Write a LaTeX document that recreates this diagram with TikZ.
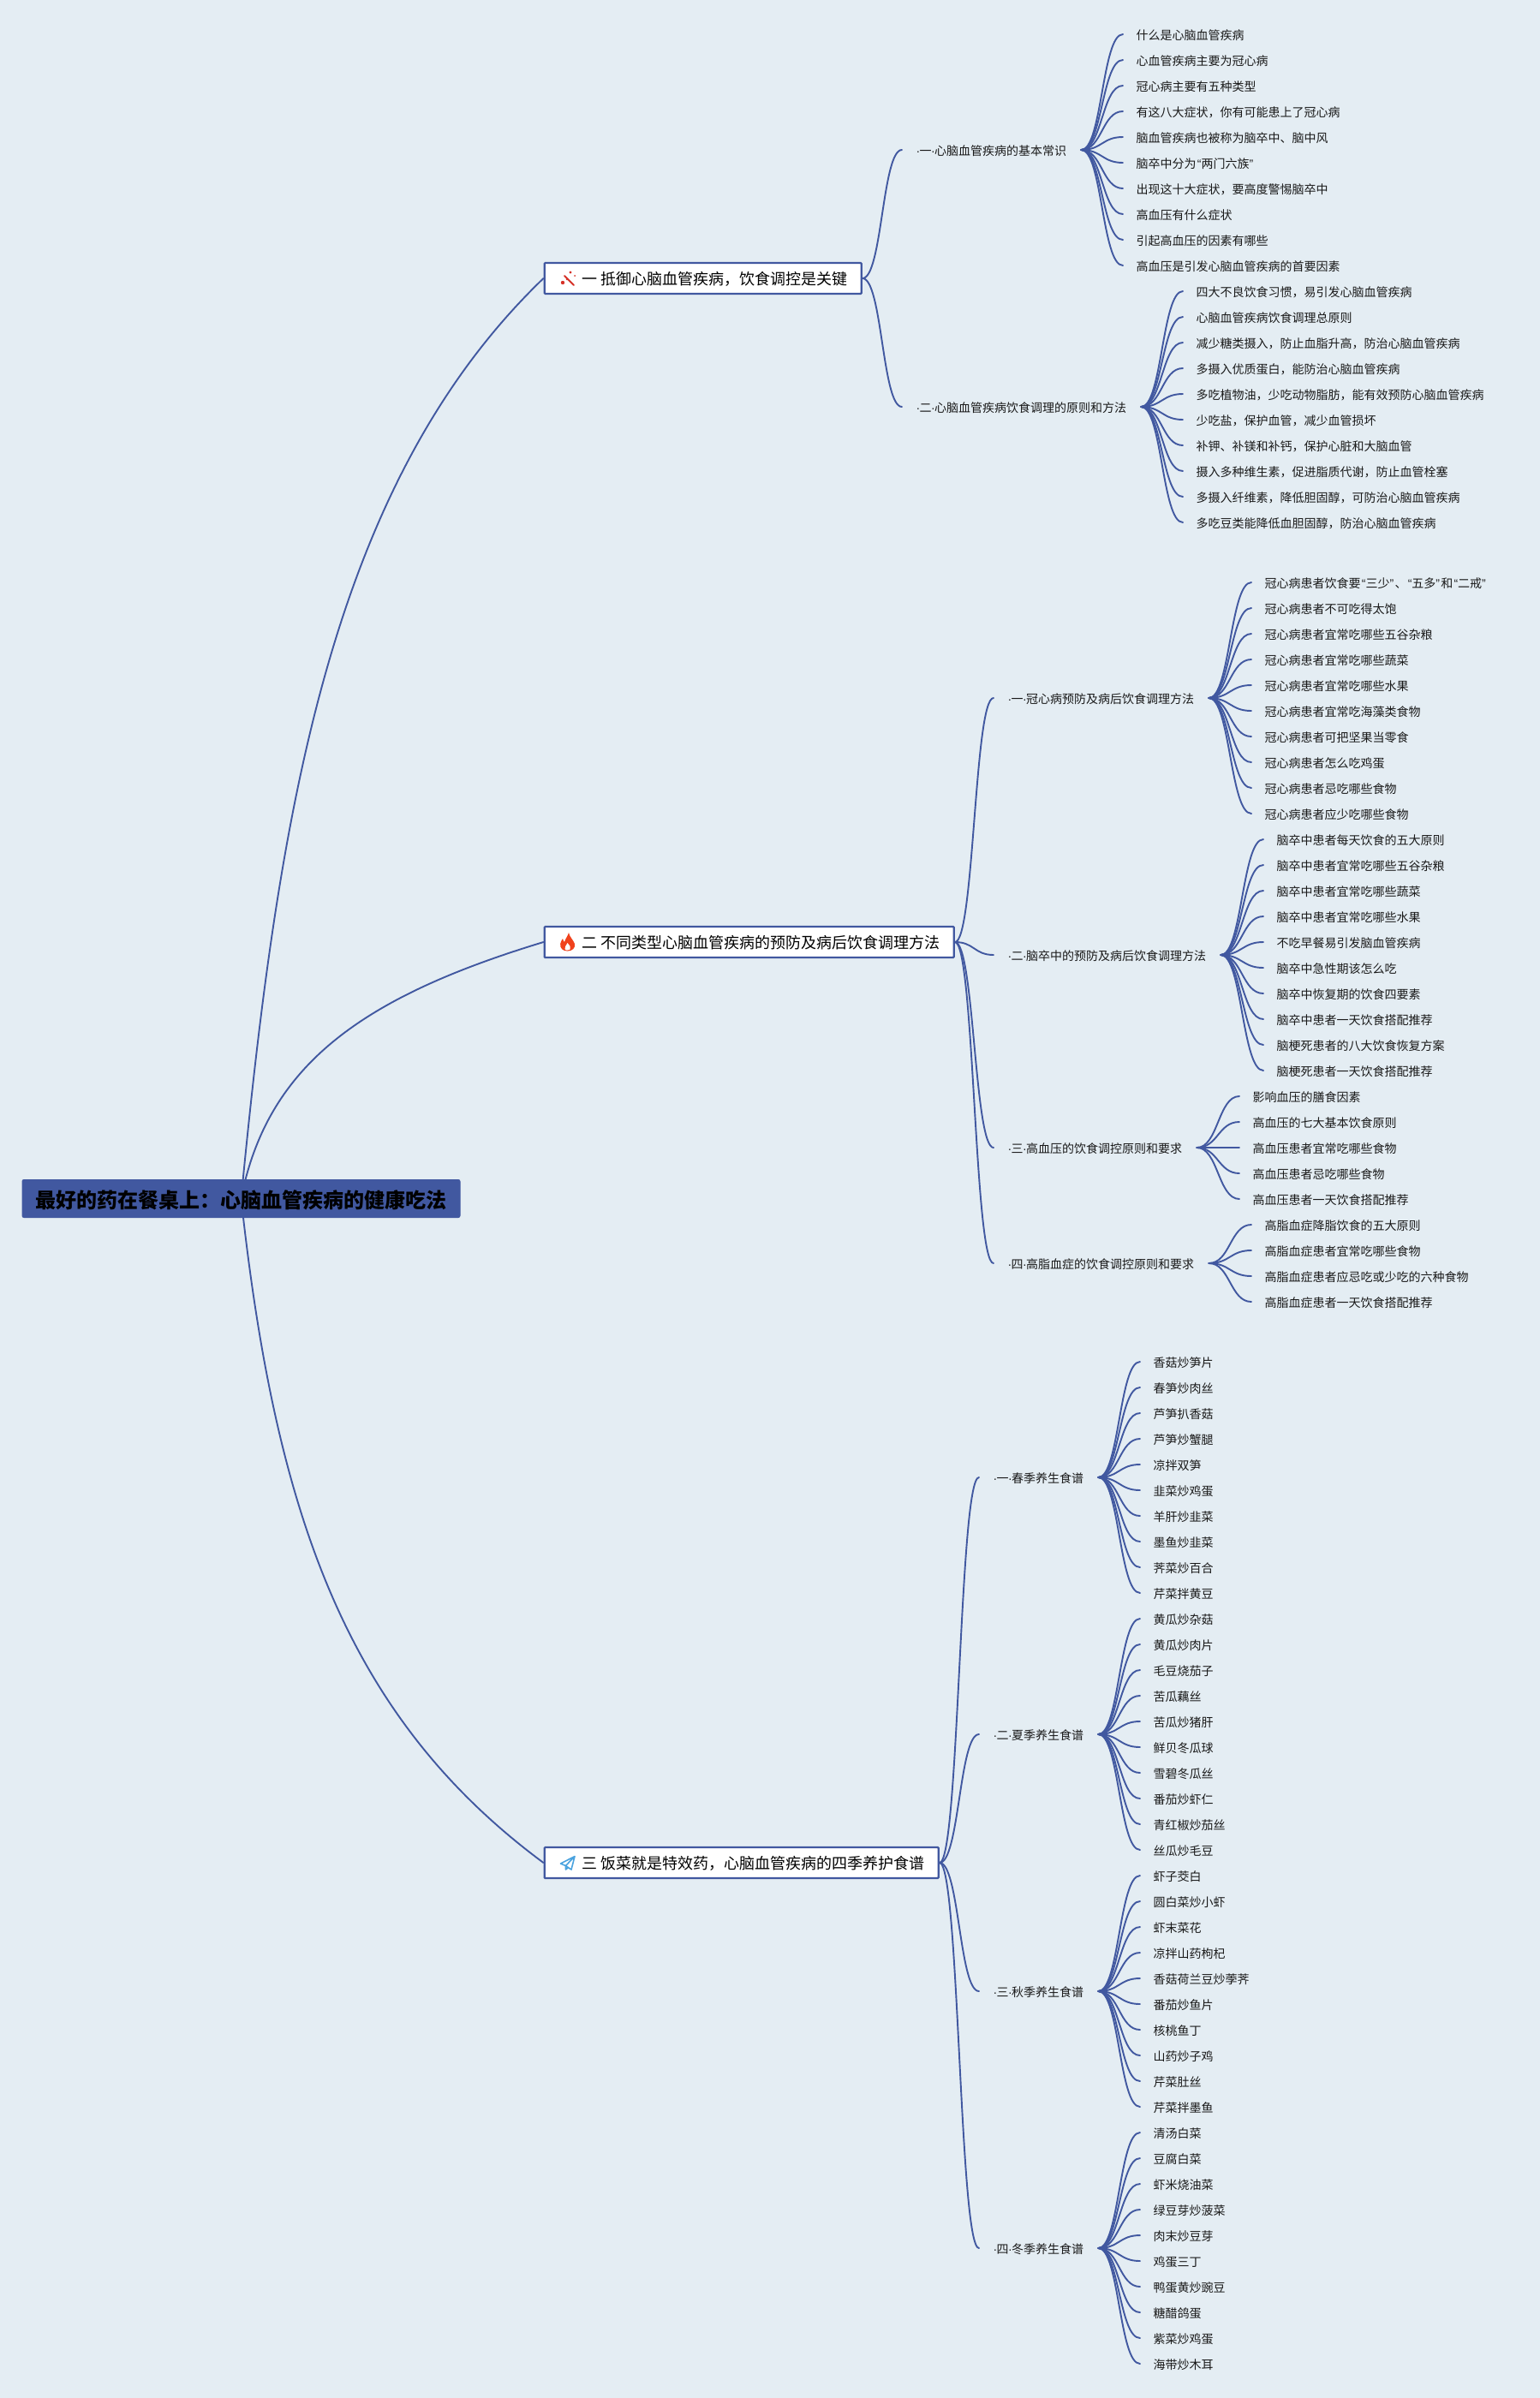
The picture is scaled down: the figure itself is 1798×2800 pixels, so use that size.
\documentclass[tikz,border=0pt]{standalone}
\usepackage{fontspec}
\setmainfont{Noto Sans CJK SC}
\newfontfamily\latinf{Liberation Sans}
\usetikzlibrary{calc,backgrounds}
\definecolor{bgc}{RGB}{228,237,243}
\definecolor{linec}{RGB}{65,88,160}
\definecolor{txtc}{RGB}{25,25,25}
\definecolor{wandc}{RGB}{214,50,40}
\definecolor{flamec}{RGB}{240,66,28}
\definecolor{planec}{RGB}{74,163,223}
\newcommand{\dd}{\makebox[3.5pt][c]{\latinf ·}}
\newcommand{\lqm}{\makebox[5.9pt][r]{\latinf “}}
\newcommand{\rqm}{\makebox[5.9pt][l]{\latinf ”}}
\tikzset{
  x=1pt,y=-1pt,
  link/.style={draw=linec,line width=1.9pt,line cap=round},
  rootnode/.style={fill=linec,draw=linec,line width=1pt,rounded corners=2pt,anchor=west,inner xsep=15.5pt,inner ysep=0pt,
    font=\fontsize{24}{26}\selectfont\bfseries,text=black,text height=33.1pt,text depth=10.9pt},
  mainnode/.style={fill=white,draw=linec,line width=2.4pt,rounded corners=1pt,anchor=west,inner xsep=16pt,inner ysep=0pt,
    font=\fontsize{18}{20}\selectfont,text=black,text height=25.8pt,text depth=10.2pt},
  labelnode/.style={anchor=west,inner xsep=17pt,inner ysep=0pt,font=\fontsize{14}{16}\selectfont,text=txtc,text height=13.8pt,text depth=1.2pt},
  leafnode/.style={anchor=west,inner xsep=15.5pt,inner ysep=0pt,font=\fontsize{14}{16}\selectfont,text=txtc,text height=14.3pt,text depth=0.7pt},
}
\newcommand{\conn}[2]{\draw[link] let \p1=(#1),\p2=(#2),\n1={0.5*\x1+0.5*\x2} in (\p1) .. controls (\n1,\y1) and (\n1,\y2) .. (\p2);}
% name, parent box, label x, junction y, label text, leaf x, first leaf y, leaves
\newcommand{\branch}[8]{%
  \node[labelnode] (#1) at (#3,#4) {#5};
  \begin{pgfonlayer}{background}\conn{#2.east}{#1.west}\end{pgfonlayer}
  \foreach \t [count=\i] in {#8} {
    \node[leafnode] (#1-\i) at (#6,{#7+30*(\i-1)}) {\t};
    \begin{pgfonlayer}{background}\conn{#1.east}{#1-\i.west}\end{pgfonlayer}
  }
}
\begin{document}
\begin{tikzpicture}
\useasboundingbox (0,0) rectangle (1798,2800);
\begin{pgfonlayer}{background}
\fill[bgc] (0,0) rectangle (1798,2800);
\end{pgfonlayer}

\node[rootnode] (root) at (25.5,1399.5) {最好的药在餐桌上：心脑血管疾病的健康吃法};
\node[mainnode] (m1) at (634.5,325) {\hspace*{28pt}一 抵御心脑血管疾病，饮食调控是关键};
\node[mainnode] (m2) at (634.5,1100) {\hspace*{28pt}二 不同类型心脑血管疾病的预防及病后饮食调理方法};
\node[mainnode] (m3) at (634.5,2175) {\hspace*{28pt}三 饭菜就是特效药，心脑血管疾病的四季养护食谱};

\begin{pgfonlayer}{background}
\draw[link] (root.center) .. controls (325,950) and (385,565) .. (m1.west);
\draw[link] (root.center) .. controls (312,1245) and (420,1165) .. (m2.west);
\draw[link] (root.center) .. controls (322,1770) and (405,2005) .. (m3.west);
\end{pgfonlayer}

% icons
\draw[wandc,line width=2pt,line cap=round] (659,322) -- (670,333);
\fill[wandc] (666,318) circle (1.6) (657,330) circle (2.2) (662,326) circle (1.4) (671,322) circle (1);
\fill[flamec] (664,1089) .. controls (665,1094) and (669,1097) .. (671,1102)
  .. controls (672,1107) and (668,1110.5) .. (662.5,1110.5)
  .. controls (657,1110.5) and (653.5,1107) .. (654.2,1102)
  .. controls (654.6,1099) and (656,1098) .. (657,1096)
  .. controls (657.6,1098) and (658,1099) .. (659,1100)
  .. controls (660,1096) and (663,1093) .. (664,1089) -- cycle;
\fill[bgc!10!white] (662.5,1101) .. controls (665,1104) and (667,1106) .. (665.5,1108.5) .. controls (664,1110) and (660,1110) .. (659.5,1108) .. controls (659,1106) and (661,1104) .. (662.5,1101) -- cycle;
\draw[planec,line width=1.6pt,line join=round] (671,2167.5) -- (654.5,2176) -- (660.5,2178.5) -- (671,2167.5) -- (667,2183) -- (660.5,2178.5) -- (660.5,2183) -- (663.5,2180.5);

\branch{a}{m1}{1053}{175}{\dd 一\dd 心脑血管疾病的基本常识}{1311}{40}{什么是心脑血管疾病,心血管疾病主要为冠心病,冠心病主要有五种类型,有这八大症状，你有可能患上了冠心病,脑血管疾病也被称为脑卒中、脑中风,脑卒中分为\lqm 两门六族\rqm,出现这十大症状，要高度警惕脑卒中,高血压有什么症状,引起高血压的因素有哪些,高血压是引发心脑血管疾病的首要因素}
\branch{b}{m1}{1053}{475}{\dd 二\dd 心脑血管疾病饮食调理的原则和方法}{1381}{340}{四大不良饮食习惯，易引发心脑血管疾病,心脑血管疾病饮食调理总原则,减少糖类摄入，防止血脂升高，防治心脑血管疾病,多摄入优质蛋白，能防治心脑血管疾病,多吃植物油，少吃动物脂肪，能有效预防心脑血管疾病,少吃盐，保护血管，减少血管损坏,补钾、补镁和补钙，保护心脏和大脑血管,摄入多种维生素，促进脂质代谢，防止血管栓塞,多摄入纤维素，降低胆固醇，可防治心脑血管疾病,多吃豆类能降低血胆固醇，防治心脑血管疾病}
\branch{c}{m2}{1160}{815}{\dd 一\dd 冠心病预防及病后饮食调理方法}{1461}{680}{冠心病患者饮食要\lqm 三少\rqm 、\lqm 五多\rqm 和\lqm 二戒\rqm,冠心病患者不可吃得太饱,冠心病患者宜常吃哪些五谷杂粮,冠心病患者宜常吃哪些蔬菜,冠心病患者宜常吃哪些水果,冠心病患者宜常吃海藻类食物,冠心病患者可把坚果当零食,冠心病患者怎么吃鸡蛋,冠心病患者忌吃哪些食物,冠心病患者应少吃哪些食物}
\branch{d}{m2}{1160}{1115}{\dd 二\dd 脑卒中的预防及病后饮食调理方法}{1475}{980}{脑卒中患者每天饮食的五大原则,脑卒中患者宜常吃哪些五谷杂粮,脑卒中患者宜常吃哪些蔬菜,脑卒中患者宜常吃哪些水果,不吃早餐易引发脑血管疾病,脑卒中急性期该怎么吃,脑卒中恢复期的饮食四要素,脑卒中患者一天饮食搭配推荐,脑梗死患者的八大饮食恢复方案,脑梗死患者一天饮食搭配推荐}
\branch{e}{m2}{1160}{1340}{\dd 三\dd 高血压的饮食调控原则和要求}{1447}{1280}{影响血压的膳食因素,高血压的七大基本饮食原则,高血压患者宜常吃哪些食物,高血压患者忌吃哪些食物,高血压患者一天饮食搭配推荐}
\branch{f}{m2}{1160}{1475}{\dd 四\dd 高脂血症的饮食调控原则和要求}{1461}{1430}{高脂血症降脂饮食的五大原则,高脂血症患者宜常吃哪些食物,高脂血症患者应忌吃或少吃的六种食物,高脂血症患者一天饮食搭配推荐}
\branch{g}{m3}{1143}{1725}{\dd 一\dd 春季养生食谱}{1331}{1590}{香菇炒笋片,春笋炒肉丝,芦笋扒香菇,芦笋炒蟹腿,凉拌双笋,韭菜炒鸡蛋,羊肝炒韭菜,墨鱼炒韭菜,荠菜炒百合,芹菜拌黄豆}
\branch{h}{m3}{1143}{2025}{\dd 二\dd 夏季养生食谱}{1331}{1890}{黄瓜炒杂菇,黄瓜炒肉片,毛豆烧茄子,苦瓜藕丝,苦瓜炒猪肝,鲜贝冬瓜球,雪碧冬瓜丝,番茄炒虾仁,青红椒炒茄丝,丝瓜炒毛豆}
\branch{i}{m3}{1143}{2325}{\dd 三\dd 秋季养生食谱}{1331}{2190}{虾子茭白,圆白菜炒小虾,虾末菜花,凉拌山药枸杞,香菇荷兰豆炒荸荠,番茄炒鱼片,核桃鱼丁,山药炒子鸡,芹菜肚丝,芹菜拌墨鱼}
\branch{j}{m3}{1143}{2625}{\dd 四\dd 冬季养生食谱}{1331}{2490}{清汤白菜,豆腐白菜,虾米烧油菜,绿豆芽炒菠菜,肉末炒豆芽,鸡蛋三丁,鸭蛋黄炒豌豆,糖醋鸽蛋,紫菜炒鸡蛋,海带炒木耳}
\end{tikzpicture}
\end{document}
